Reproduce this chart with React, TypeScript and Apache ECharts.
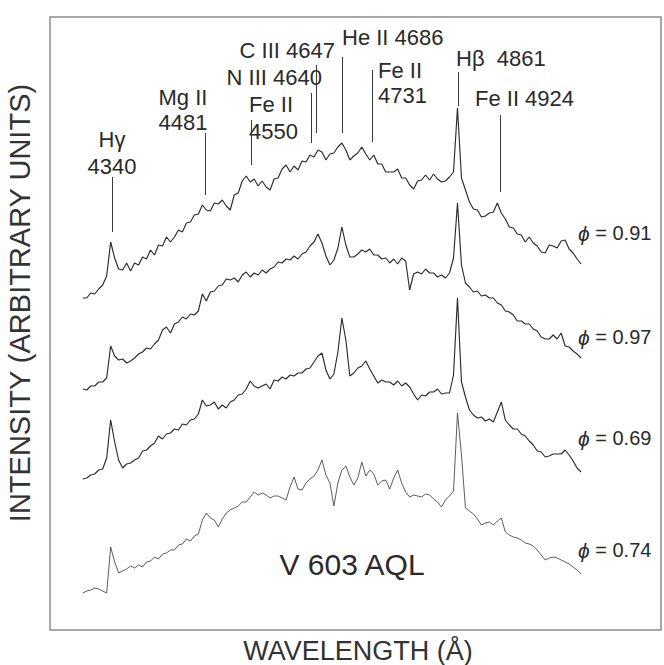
import React, { useEffect, useRef } from "react";
import * as echarts from "echarts";

// Shared wavelength sampling of the four spectra (Å)
const WAVELENGTH_START = 4296;
const WAVELENGTH_STEP = 6;

// Stacked spectra of V 603 Aql at four orbital phases (arbitrary intensity, offsets included)
const phase091 = [
  332, 332, 337, 336, 341, 345, 354, 388, 372, 361,
  360, 367, 359, 367, 365, 373, 371, 380, 375, 385,
  384, 393, 388, 393, 400, 398, 407, 408, 415, 416,
  425, 420, 419, 427, 426, 430, 424, 420, 435, 437,
  449, 454, 448, 451, 444, 449, 443, 440, 451, 452,
  461, 465, 458, 464, 460, 469, 468, 475, 473, 480,
  478, 470, 476, 477, 483, 487, 480, 470, 474, 477,
  483, 476, 470, 475, 466, 466, 458, 458, 458, 461,
  452, 452, 445, 441, 449, 450, 455, 450, 456, 451,
  448, 449, 453, 458, 522, 452, 440, 428, 421, 420,
  413, 414, 417, 418, 427, 417, 411, 403, 402, 396,
  395, 388, 393, 387, 384, 378, 377, 385, 384, 382,
  389, 390, 381, 377, 371, 366,
];
const phase097 = [
  241, 240, 244, 244, 248, 248, 252, 284, 274, 270,
  271, 267, 269, 272, 276, 278, 282, 281, 286, 290,
  300, 303, 297, 306, 308, 313, 311, 316, 315, 319,
  336, 329, 338, 339, 344, 345, 351, 350, 352, 348,
  355, 358, 353, 357, 355, 360, 357, 361, 363, 368,
  367, 371, 370, 374, 371, 376, 378, 384, 388, 396,
  387, 374, 365, 370, 382, 403, 385, 373, 373, 376,
  380, 378, 381, 375, 375, 371, 372, 367, 371, 366,
  372, 369, 340, 356, 358, 356, 361, 357, 357, 353,
  355, 352, 357, 372, 427, 365, 347, 343, 338, 339,
  334, 335, 332, 332, 327, 325, 319, 318, 315, 309,
  309, 306, 306, 301, 299, 293, 291, 291, 295, 291,
  297, 284, 283, 279, 276, 272,
];
const phase069 = [
  151, 152, 155, 156, 160, 161, 172, 210, 188, 170,
  162, 166, 167, 170, 172, 179, 180, 184, 187, 194,
  191, 196, 197, 201, 200, 206, 205, 210, 211, 216,
  230, 224, 225, 228, 221, 225, 222, 228, 230, 235,
  236, 241, 249, 244, 242, 244, 246, 241, 250, 249,
  253, 251, 255, 254, 257, 257, 261, 262, 268, 274,
  277, 260, 251, 256, 278, 312, 290, 254, 257, 262,
  264, 269, 261, 254, 247, 250, 248, 248, 245, 249,
  244, 247, 243, 236, 230, 235, 234, 238, 238, 241,
  236, 237, 237, 255, 332, 248, 233, 220, 215, 212,
  213, 209, 211, 208, 218, 228, 210, 205, 201, 201,
  196, 194, 189, 185, 179, 178, 173, 174, 176, 176,
  176, 180, 175, 169, 162, 158,
];
const phase074 = [
  37, 39, 40, 42, 41, 39, 37, 83, 68, 57,
  59, 61, 64, 62, 65, 63, 68, 69, 73, 71,
  76, 77, 80, 80, 85, 86, 91, 89, 94, 96,
  110, 117, 112, 110, 103, 111, 117, 120, 122, 124,
  128, 128, 133, 138, 135, 137, 135, 132, 134, 134,
  132, 130, 143, 153, 141, 140, 147, 151, 154, 160,
  170, 155, 147, 124, 147, 160, 164, 153, 145, 152,
  168, 154, 160, 156, 145, 149, 150, 141, 152, 160,
  147, 138, 133, 135, 134, 133, 136, 135, 131, 128,
  123, 130, 134, 139, 217, 175, 122, 119, 116, 111,
  105, 107, 108, 105, 109, 112, 98, 95, 93, 92,
  90, 87, 86, 84, 80, 75, 70, 72, 73, 72,
  70, 68, 66, 63, 60, 56,
];

const phaseValues = ["0.91", "0.97", "0.69", "0.74"];

// Line identifications (rest wavelengths, Å)
const lineWavelengths = [4340, 4481, 4550, 4640, 4647, 4686, 4731, 4861, 4924];
const lineNames = [
  "Hγ\n4340",
  "Mg II\n4481",
  "Fe II\n4550",
  "N III 4640",
  "C III 4647",
  "He II 4686",
  "Fe II\n4731",
  "Hβ  4861",
  "Fe II 4924",
];

// Tick-mark extent of each identification (intensity units) and label placement
const tickSpans = [
  [453, 398], [497, 435], [510, 465], [537, 487], [565, 497],
  [573, 497], [560, 488], [558, 524], [515, 438],
];
const labelPlacement = [
  { x: 112, y: 153, align: "center", lh: 27 },
  { x: 183, y: 110, align: "center", lh: 25 },
  { x: 249, y: 118, align: "left", lh: 27 },
  { x: 322, y: 77, align: "right", lh: 22 },
  { x: 335, y: 50, align: "right", lh: 22 },
  { x: 342, y: 37, align: "left", lh: 22 },
  { x: 378, y: 83, align: "left", lh: 25 },
  { x: 456, y: 58, align: "left", lh: 22 },
  { x: 475, y: 98, align: "left", lh: 22 },
];
const phaseLabelY = [233, 337, 438, 550];

const FONT = '"Liberation Sans", Arial, Helvetica, sans-serif';
const INK = "#2a2a2a";

export default function App() {
  const ref = useRef<HTMLDivElement>(null);

  useEffect(() => {
    if (!ref.current) return;
    const chart = echarts.init(ref.current, undefined, { renderer: "svg" });
    const toPoints = (vals: number[]) =>
      vals.map((v, i) => [WAVELENGTH_START + i * WAVELENGTH_STEP, v]);

    const spectra = [phase091, phase097, phase069, phase074];

    const series: any[] = spectra.map((vals, k) => ({
      type: "line",
      name: `phase ${phaseValues[k]}`,
      data: toPoints(vals),
      showSymbol: false,
      symbol: "none",
      silent: true,
      lineStyle: {
        color: k === 3 ? "#4a4a4a" : "#2b2b2b",
        width: k === 3 ? 0.9 : 1.15,
      },
      z: 3,
    }));

    series.push({
      type: "line",
      name: "identifications",
      data: [],
      silent: true,
      markLine: {
        silent: true,
        symbol: ["none", "none"],
        label: { show: false },
        lineStyle: { color: "#3a3a3a", width: 1, type: "solid" },
        data: lineWavelengths.map((wl, i) => [
          { coord: [wl, tickSpans[i][0]] },
          { coord: [wl, tickSpans[i][1]] },
        ]),
      },
    });

    const texts: any[] = lineNames.map((name, i) => ({
      type: "text",
      x: labelPlacement[i].x,
      y: labelPlacement[i].y,
      silent: true,
      style: {
        text: name,
        font: `22px ${FONT}`,
        fill: INK,
        align: labelPlacement[i].align,
        verticalAlign: "middle",
        lineHeight: labelPlacement[i].lh,
      },
    }));

    phaseValues.forEach((v, i) => {
      texts.push({
        type: "text",
        x: 578,
        y: phaseLabelY[i],
        silent: true,
        style: {
          text: `{phi|ϕ} = ${v}`,
          font: `20px ${FONT}`,
          fill: INK,
          align: "left",
          verticalAlign: "middle",
          rich: {
            phi: { fontStyle: "italic", fontSize: 21, fontFamily: FONT, fill: INK },
          },
        },
      });
    });

    texts.push(
      {
        type: "text",
        x: 352,
        y: 564,
        silent: true,
        style: {
          text: "V 603 AQL",
          font: `30px ${FONT}`,
          fill: INK,
          align: "center",
          verticalAlign: "middle",
        },
      },
      {
        type: "text",
        x: 358,
        y: 651,
        silent: true,
        style: {
          text: "WAVELENGTH (Å)",
          font: `27px ${FONT}`,
          fill: "#333",
          align: "center",
          verticalAlign: "middle",
        },
      },
      {
        type: "text",
        x: 20,
        y: 303,
        rotation: Math.PI / 2,
        silent: true,
        style: {
          text: "INTENSITY (ARBITRARY UNITS)",
          font: `29px ${FONT}`,
          fill: "#333",
          align: "center",
          verticalAlign: "middle",
        },
      }
    );

    chart.setOption({
      animation: false,
      backgroundColor: "#ffffff",
      grid: {
        show: true,
        left: 50,
        top: 17,
        width: 611,
        bottom: 35,
        borderColor: "#8c8c8c",
        borderWidth: 1.5,
        backgroundColor: "transparent",
      },
      xAxis: {
        type: "value",
        min: 4246.7,
        max: 5166.3,
        show: false,
        splitLine: { show: false },
      },
      yAxis: {
        type: "value",
        min: 0,
        max: 613,
        show: false,
        splitLine: { show: false },
      },
      series,
      graphic: texts,
    });

    return () => chart.dispose();
  }, []);

  return (
    <div
      ref={ref}
      style={{ position: "fixed", left: 0, top: 0, width: 664, height: 665, background: "#fff" }}
    />
  );
}
